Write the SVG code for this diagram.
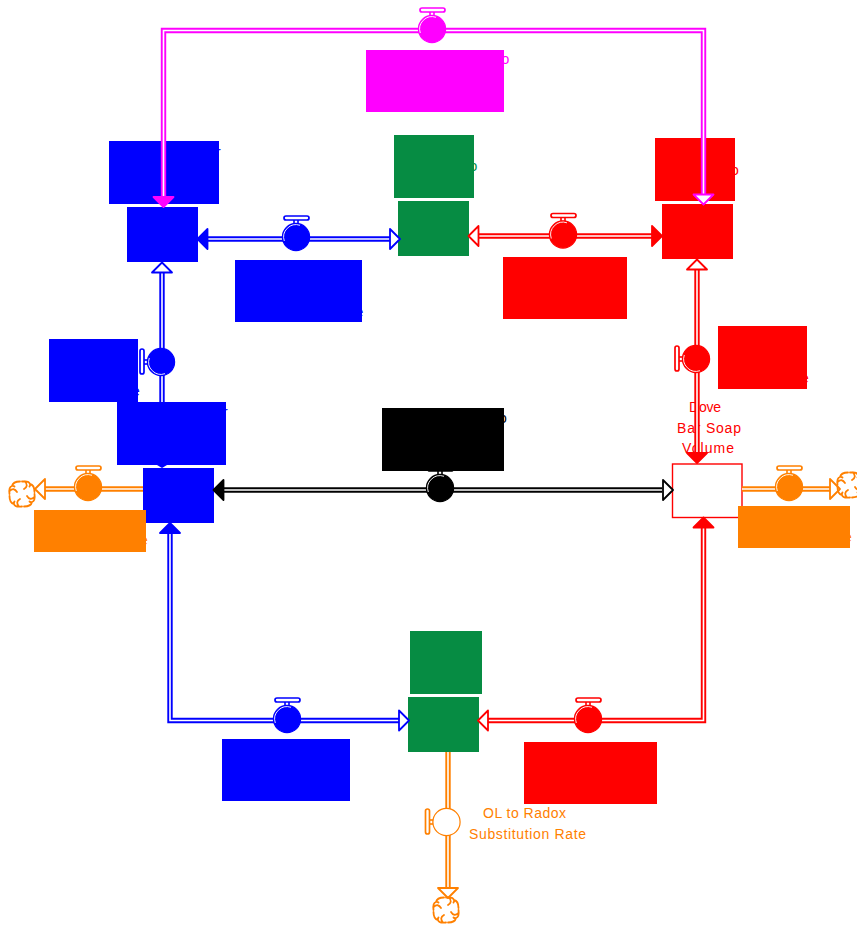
<svg xmlns="http://www.w3.org/2000/svg" xmlns:xlink="http://www.w3.org/1999/xlink" width="857" height="926" viewBox="0 0 857 926">
<style>
.o{fill:none;stroke-width:5.4}
.i{fill:none;stroke:#fff;stroke-width:1.6}
.t{font-family:"Liberation Sans",Arial,sans-serif;font-size:14px}
.s{stroke-width:1}
.blue{fill:#00f;stroke:#00f;color:#00f}
.red{fill:#f00;stroke:#f00;color:#f00}
.green{fill:#068c43;stroke:#068c43;color:#068c43}
.mag{fill:#f0f;stroke:#f0f;color:#f0f}
.blk{fill:#000;stroke:#000;color:#000}
.org{fill:#ff8000;stroke:#ff8000;color:#ff8000}
.nost{stroke:none}
.cl{fill:none;stroke:#ff8000;stroke-width:1.8;stroke-linecap:round;stroke-linejoin:round}
</style>
<defs>
<g id="ah"><polygon points="0,0 -10,10 10,10" stroke="currentColor" stroke-width="1.8" stroke-linejoin="round"/></g>
<g id="vh">
<rect x="-2" y="-18" width="4" height="5" fill="#fff" stroke="currentColor" stroke-width="1.6"/>
<rect x="-12" y="-21" width="25" height="4" rx="2" fill="#fff" stroke="currentColor" stroke-width="1.7"/>
</g>
<g id="v">
<use href="#vh"/>
<circle r="13.600" fill="currentColor" stroke="currentColor" stroke-width="1.200"/>
<path d="M-11.700,4A12.400,12.400 0 0 1 4,-11.700" fill="none" stroke="#fff" stroke-width="0.900"/>
</g>
<g id="q"><path d="M0,-12.500Q7,-13.500 8,-10Q12.500,-9 12.500,-2M3,-12.500Q7,-8 2,-5M8,-10Q8.500,-8.500 7.500,-7.500"/></g>
<g id="cloud" class="cl"><use href="#q"/><use href="#q" transform="rotate(90)"/><use href="#q" transform="rotate(180)"/><use href="#q" transform="rotate(270)"/></g>
</defs>

<g id="stock-top-left">
<text class="t blue nost" x="216" y="157">r</text>
<rect class="blue nost" x="109" y="141" width="110" height="63"/>
<rect class="blue s" x="127.500" y="207.500" width="70" height="54"/>
</g>
<g id="stock-top-middle">
<text class="t green nost" x="469.500" y="171">o</text>
<rect class="green nost" x="394" y="135" width="80" height="63"/>
<rect class="green s" x="398.500" y="201.500" width="70" height="54"/>
</g>
<g id="stock-top-right">
<text class="t red nost" x="731" y="175">o</text>
<rect class="red nost" x="655" y="138" width="80" height="63"/>
<rect class="red s" x="662.500" y="204.500" width="70" height="54"/>
</g>
<g id="stock-mid-left">
<text class="t blue nost" x="223" y="417">r</text>
<rect class="blue nost" x="117" y="402" width="109" height="63"/>
<rect class="blue s" x="143.500" y="468.500" width="70" height="54"/>
</g>
<g id="stock-dove-bar-soap">
<text class="t red nost" x="705" y="412" text-anchor="middle" textLength="32" lengthAdjust="spacing">Dove</text>
<text class="t red nost" x="709" y="433" text-anchor="middle" textLength="64" lengthAdjust="spacing">Bar Soap</text>
<text class="t red nost" x="708" y="453" text-anchor="middle" textLength="52" lengthAdjust="spacing">Volume</text>
<rect x="672.500" y="464" width="69.500" height="53.500" fill="#fff" stroke="#f00" stroke-width="1.400"/>
</g>
<g id="stock-bottom-middle">
<rect class="green nost" x="410" y="631" width="72" height="63"/>
<rect class="green s" x="408.500" y="697.500" width="70" height="54"/>
</g>

<g id="connectors">
<g class="blue">
<path class="o" d="M207,239H390"/><path class="i" d="M207,239H390"/>
<path class="o" d="M162,272V402"/><path class="i" d="M162,272V402"/>
<path class="o" d="M170,533V720.500H399"/><path class="i" d="M170,533V720.500H399"/>
</g>
<use href="#ah" class="blue" transform="translate(197.500,239) rotate(-90)"/>
<use href="#ah" fill="#fff" stroke="none" color="#00f" transform="translate(400,239) rotate(90)"/>
<use href="#ah" fill="#fff" stroke="none" color="#00f" transform="translate(162,262.500)"/>
<polygon class="blue nost" points="157,465 167,465 162,468"/>
<use href="#ah" class="blue" transform="translate(170,523)"/>
<use href="#ah" fill="#fff" stroke="none" color="#00f" transform="translate(409,720.500) rotate(90)"/>
<g class="red">
<path class="o" d="M479,236H652"/><path class="i" d="M479,236H652"/>
<path class="o" d="M697,269V453"/><path class="i" d="M697,269V453"/>
<path class="o" d="M703.500,527V720.500H488"/><path class="i" d="M703.500,527V720.500H488"/>
</g>
<use href="#ah" fill="#fff" stroke="none" color="#f00" transform="translate(468.500,236) rotate(-90)"/>
<use href="#ah" class="red" transform="translate(662,236) rotate(90)"/>
<use href="#ah" fill="#fff" stroke="none" color="#f00" transform="translate(697,259.500)"/>
<use href="#ah" class="red" transform="translate(697,463) rotate(180)"/>
<use href="#ah" class="red" transform="translate(703.500,517.500)"/>
<use href="#ah" fill="#fff" stroke="none" color="#f00" transform="translate(478,720.500) rotate(-90)"/>
<g class="blk">
<path class="o" d="M223,490H662"/><path class="i" d="M223,490H662"/>
</g>
<use href="#ah" class="blk" transform="translate(213.500,490) rotate(-90)"/>
<use href="#ah" fill="#fff" stroke="none" color="#000" transform="translate(673,490) rotate(90)"/>
<g class="org">
<path class="o" d="M143,489H45"/><path class="i" d="M143,489H45"/>
<path class="o" d="M742,489H830"/><path class="i" d="M742,489H830"/>
<path class="o" d="M448,752V888"/><path class="i" d="M448,752V888"/>
</g>
<use href="#ah" fill="#fff" stroke="none" color="#ff8000" transform="translate(35,489) rotate(-90)"/>
<use href="#ah" fill="#fff" stroke="none" color="#ff8000" transform="translate(840,489) rotate(90)"/>
<use href="#ah" fill="#fff" stroke="none" color="#ff8000" transform="translate(448,898) rotate(180)"/>
<g class="mag">
<path class="o" d="M163.500,197V30.500H703.500V194"/><path class="i" d="M163.500,197V30.500H703.500V194"/>
</g>
<use href="#ah" class="mag" transform="translate(163.500,207) rotate(180)"/>
<use href="#ah" fill="#fff" stroke="none" color="#f0f" transform="translate(703.500,204.500) rotate(180)"/>
</g>

<g id="cloud-left"><use href="#cloud" transform="translate(22,494)"/></g>
<g id="cloud-right"><use href="#cloud" transform="translate(850,485)"/></g>
<g id="cloud-bottom"><use href="#cloud" transform="translate(446,910)"/></g>

<g id="valve-top"><use href="#v" color="#f0f" transform="translate(432,29)"/><text class="t mag nost" x="501.500" y="64">o</text><rect class="mag nost" x="366" y="50" width="138" height="62"/></g>
<g id="valve-blue-top"><use href="#v" color="#00f" transform="translate(296,237)"/><text class="t blue nost" x="355.500" y="317">e</text><rect class="blue nost" x="235" y="260" width="127" height="62"/></g>
<g id="valve-red-top"><use href="#v" color="#f00" transform="translate(563,234.500)"/><rect class="red nost" x="503" y="257" width="124" height="62"/></g>
<g id="valve-blue-left"><use href="#v" color="#00f" transform="translate(161,362) rotate(-90)"/><text class="t blue nost" x="132" y="396">e</text><rect class="blue nost" x="49" y="339" width="89" height="63"/></g>
<g id="valve-red-right"><use href="#v" color="#f00" transform="translate(696,359) rotate(-90)"/><text class="t red nost" x="801" y="383">e</text><rect class="red nost" x="718" y="326" width="89" height="63"/></g>
<g id="valve-black"><use href="#v" color="#000" transform="translate(440,488)"/><text class="t blk nost" x="499" y="423">o</text><rect class="blk nost" x="382" y="408" width="122" height="63"/></g>
<g id="valve-orange-left"><use href="#v" color="#ff8000" transform="translate(88,487)"/><text class="t org nost" x="140" y="545">e</text><rect class="org nost" x="34" y="510" width="112" height="42"/></g>
<g id="valve-orange-right"><use href="#v" color="#ff8000" transform="translate(789,487)"/><text class="t org nost" x="844" y="542">e</text><rect class="org nost" x="738" y="506" width="112" height="42"/></g>
<g id="valve-blue-bottom"><use href="#v" color="#00f" transform="translate(287,719)"/><rect class="blue nost" x="222" y="739" width="128" height="62"/></g>
<g id="valve-red-bottom"><use href="#v" color="#f00" transform="translate(588,719)"/><rect class="red nost" x="524" y="742" width="133" height="62"/></g>
<g id="valve-ol-radox">
<use href="#vh" color="#ff8000" transform="translate(446.500,822) rotate(-90)"/>
<circle cx="446.500" cy="822" r="13.600" fill="#fff" stroke="#ff8000" stroke-width="1.200"/>
<text class="t org nost" x="483" y="818" textLength="83" lengthAdjust="spacing">OL to Radox</text>
<text class="t org nost" x="469" y="839" textLength="117" lengthAdjust="spacing">Substitution Rate</text>
</g>
</svg>
